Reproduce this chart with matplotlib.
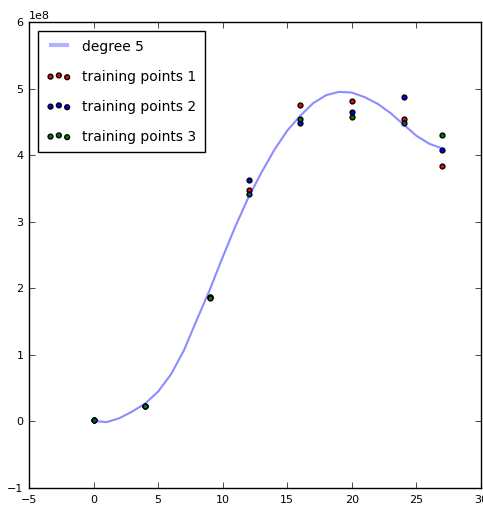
import numpy as np
import matplotlib
matplotlib.use("Agg")
import matplotlib.pyplot as plt

plt.style.use("classic")

x_train = [0, 4, 9, 12, 16, 20, 24, 27]
y_train_1 = [0.02e8, 0.24e8, 1.87e8, 3.47e8, 4.76e8, 4.82e8, 4.55e8, 3.83e8]
y_train_2 = [0.02e8, 0.24e8, 1.87e8, 3.62e8, 4.48e8, 4.65e8, 4.88e8, 4.07e8]
y_train_3 = [0.03e8, 0.24e8, 1.86e8, 3.42e8, 4.55e8, 4.58e8, 4.49e8, 4.30e8]

# degree-5 model curve, values at x = 0..27
x_curve = list(range(0, 28))
y_curve = [0.01e8, -0.01e8, 0.05e8, 0.15e8, 0.27e8, 0.45e8, 0.71e8, 1.07e8,
           1.53e8, 1.98e8, 2.47e8, 2.94e8, 3.37e8, 3.74e8, 4.08e8, 4.37e8,
           4.59e8, 4.78e8, 4.90e8, 4.95e8, 4.94e8, 4.87e8, 4.77e8, 4.63e8,
           4.46e8, 4.29e8, 4.17e8, 4.10e8]
degree = 5

fig = plt.figure(figsize=(4.83, 5.10), dpi=100)
ax = fig.add_axes([0.060, 0.041, 0.936, 0.914])

ax.plot(x_curve, y_curve, color="b", alpha=0.45, lw=1.5, label="degree %d" % degree)

ax.scatter(x_train, y_train_1, c="r", s=12, label="training points 1")
ax.scatter(x_train, y_train_2, c="b", s=12, label="training points 2")
ax.scatter(x_train, y_train_3, c="g", s=12, label="training points 3")

ax.set_xlim(-5, 30)
ax.set_ylim(-1e8, 6e8)
ax.tick_params(labelsize=8)
ax.yaxis.get_offset_text().set_fontsize(8)
leg = ax.legend(loc="upper left", fontsize=10, scatterpoints=3,
                labelspacing=1.15, borderpad=0.6, borderaxespad=0.65,
                handletextpad=0.8, handlelength=1.8)
leg.get_lines()[0].set_linewidth(3)
leg.get_lines()[0].set_alpha(0.3)

fig.savefig("out.png", dpi=100)
